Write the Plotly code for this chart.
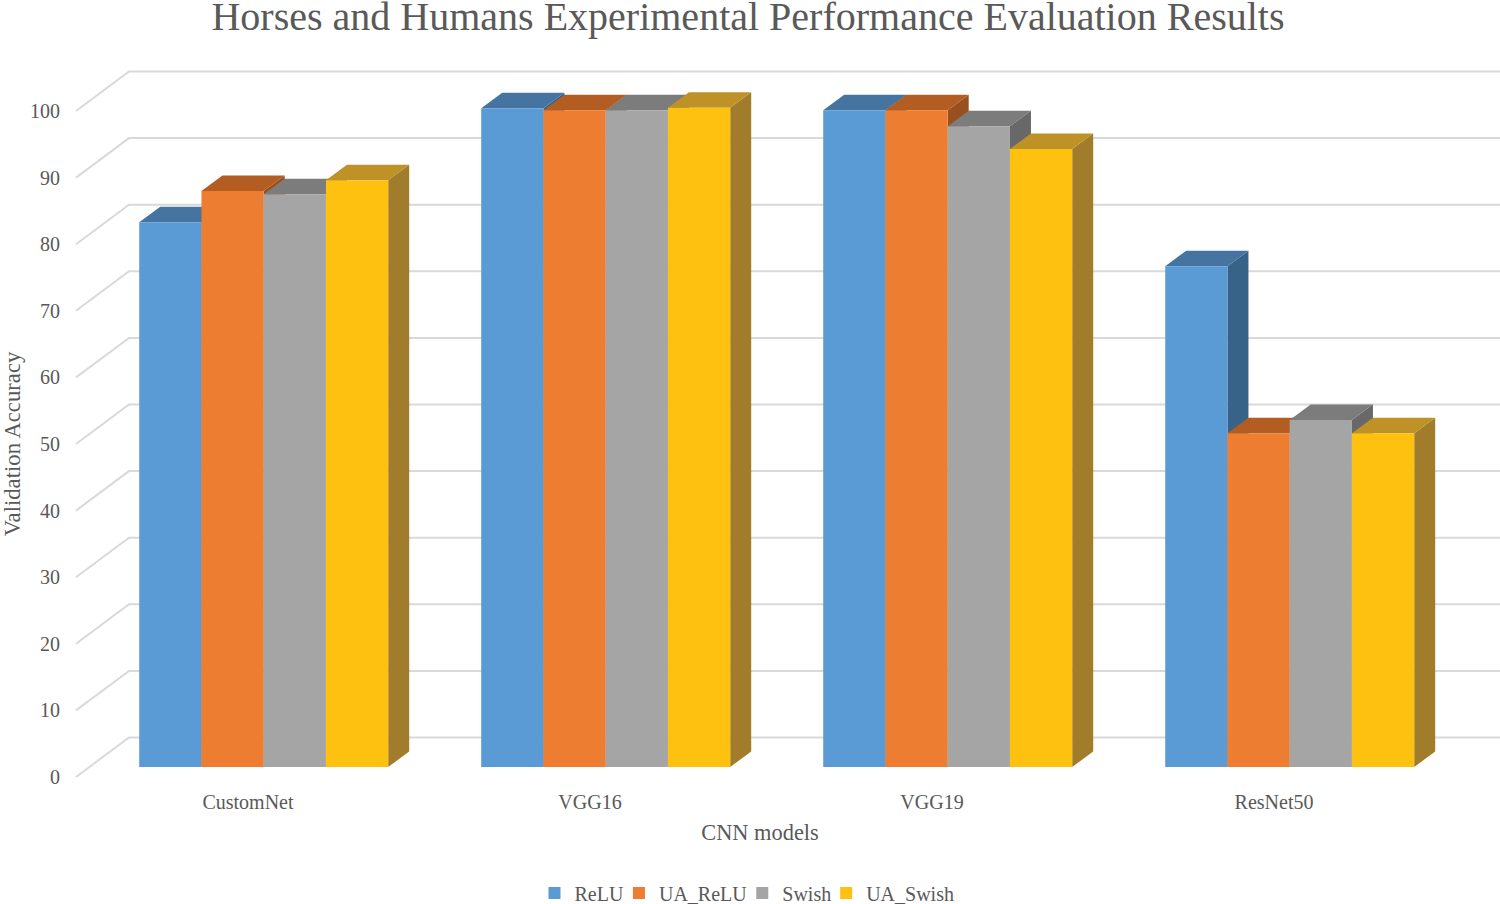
import plotly.graph_objects as go

models = ["CustomNet", "VGG16", "VGG19", "ResNet50"]
series_names = ["ReLU", "UA_ReLU", "Swish", "UA_Swish"]
relu = [81.8, 98.9, 98.6, 75.2]
ua_relu = [86.5, 98.6, 98.6, 50.1]
swish = [86.0, 98.6, 96.2, 52.1]
ua_swish = [88.1, 99.0, 92.8, 50.1]
y_ticks = [0, 10, 20, 30, 40, 50, 60, 70, 80, 90, 100]

front_colors = ["#5B9BD5", "#ED7D31", "#A5A5A5", "#FFC10F"]
top_colors = ["#44749F", "#B35D22", "#7C7C7C", "#BF9228"]
side_colors = ["#386389", "#9A4F1E", "#686868", "#A17D2B"]
all_values = [relu, ua_relu, swish, ua_swish]

W, H = 1500, 904
L, T, B = 20, 50, 838          # plot rectangle, px
PX_PER_X = 342.0               # one category step
PX_PER_Y = 6.66                # one value unit
X0_PX, Y0_PX = 248.0, 777.0    # category 0 label, value 0 on the front plane

xr = [(L - X0_PX) / PX_PER_X, (W - X0_PX) / PX_PER_X]
yr = [(Y0_PX - B) / PX_PER_Y, (Y0_PX - T) / PX_PER_Y]

BAR_W = 62.25 / PX_PER_X
GROUP_LEFT = (139.2 - X0_PX) / PX_PER_X
DX = 21 / PX_PER_X
DY = 15.5 / PX_PER_Y
PLANE = 10 / PX_PER_Y          # bar plane sits behind the front plane
WALL_DX = 53 / PX_PER_X
WALL_DY = 39.5 / PX_PER_Y
WALL_X0 = (76 - X0_PX) / PX_PER_X

FONT = "Liberation Serif"
GREY = "#595959"
GRID = "#D9D9D9"

fig = go.Figure()

# side wall and back wall gridlines
gx, gy = [], []
for v in y_ticks:
    gx += [WALL_X0, WALL_X0 + WALL_DX, xr[1], None]
    gy += [v, v + WALL_DY, v + WALL_DY, None]
fig.add_trace(go.Scatter(x=gx, y=gy, mode="lines", showlegend=False, hoverinfo="skip",
                         line=dict(color=GRID, width=2)))


def poly_trace(xs, ys, color):
    return go.Scatter(x=xs, y=ys, mode="lines", fill="toself", fillcolor=color,
                      line=dict(width=0, color=color), showlegend=False, hoverinfo="skip")


# right-hand faces first, then the top faces, then the front faces on the overlay axes
for s, vals in enumerate(all_values):
    xs, ys = [], []
    for g, v in enumerate(vals):
        x1 = g + GROUP_LEFT + (s + 1) * BAR_W
        t = v + PLANE
        xs += [x1, x1 + DX, x1 + DX, x1, x1, None]
        ys += [t, t + DY, PLANE + DY, PLANE, t, None]
    fig.add_trace(poly_trace(xs, ys, side_colors[s]))

for s, vals in enumerate(all_values):
    xs, ys = [], []
    for g, v in enumerate(vals):
        x0 = g + GROUP_LEFT + s * BAR_W
        t = v + PLANE
        xs += [x0, x0 + BAR_W, x0 + BAR_W + DX, x0 + DX, x0, None]
        ys += [t, t, t + DY, t + DY, t, None]
    fig.add_trace(poly_trace(xs, ys, top_colors[s]))

for s, vals in enumerate(all_values):
    fig.add_trace(go.Bar(
        x=[g + GROUP_LEFT + (s + 0.5) * BAR_W for g in range(len(models))],
        y=vals, width=BAR_W, name=series_names[s], xaxis="x2", yaxis="y2",
        marker=dict(color=front_colors[s], line=dict(width=0)),
    ))

fig.update_layout(
    width=W, height=H, barmode="overlay",
    margin=dict(l=L, r=0, t=T, b=H - B, autoexpand=False),
    paper_bgcolor="white", plot_bgcolor="white",
    font=dict(family=FONT, color=GREY, size=20),
    title=dict(text="Horses and Humans Experimental Performance Evaluation Results",
               font=dict(family=FONT, size=40, color=GREY),
               x=748 / W, xanchor="center", xref="container",
               y=1 - 16 / H, yanchor="middle", yref="container"),
    xaxis=dict(range=xr, anchor="free", position=(B - 790) / (B - T),
               tickmode="array", tickvals=list(range(len(models))), ticktext=models,
               tickfont=dict(family=FONT, size=20, color=GREY), ticks="", ticklabelstandoff=-2,
               showgrid=False, zeroline=False, showline=False,
               title=dict(text="CNN models", font=dict(family=FONT, size=22.4, color=GREY), standoff=12)),
    yaxis=dict(range=yr, anchor="free", position=(60 - L) / (W - L),
               tickmode="array", tickvals=y_ticks,
               tickfont=dict(family=FONT, size=20, color=GREY), ticks="",
               showgrid=False, zeroline=False, showline=False,
               title=dict(text="Validation Accuracy", font=dict(family=FONT, size=22.7, color=GREY), standoff=12)),
    xaxis2=dict(range=xr, overlaying="x", visible=False),
    yaxis2=dict(range=[r - PLANE for r in yr], overlaying="y", visible=False),
    legend=dict(orientation="h", x=(752 - L) / (W - L), xanchor="center",
                y=(H - 893) / H, yanchor="middle", yref="container", indentation=-10,
                font=dict(family=FONT, size=20, color=GREY), itemclick=False, itemdoubleclick=False),
    showlegend=True,
)

fig.write_html("out.html", config={"displayModeBar": False},
               post_script="document.body.style.margin='0';document.body.style.overflow='hidden';")
